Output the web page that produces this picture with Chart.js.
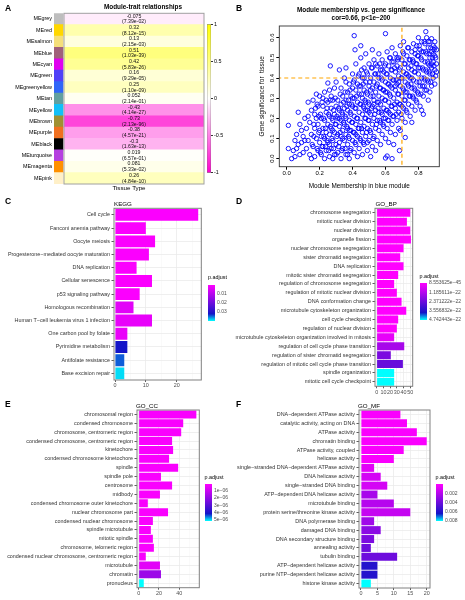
<!DOCTYPE html>
<html>
<head>
<meta charset="utf-8">
<script src="https://cdn.jsdelivr.net/npm/chart.js@4.4.0/dist/chart.umd.min.js"></script>
<style>
  body { margin: 0; background: #fff; }
  #page { position: relative; width: 465px; height: 600px; overflow: hidden; font-family: 'Liberation Sans', Arial, sans-serif; }
  canvas { position: absolute; }
  .txt { position: absolute; white-space: nowrap; line-height: 1; color: #000; }
</style>
</head>
<body>
<div id="page"></div>
<script>
// ---------- A: module-trait heatmap ----------
const modules = ['MEgrey', 'MEred', 'MEsalmon', 'MEblue', 'MEcyan', 'MEgreen', 'MEgreenyellow', 'MEtan',
  'MEyellow', 'MEbrown', 'MEpurple', 'MEblack', 'MEturquoise', 'MEmagenta', 'MEpink'];
const moduleColors = ['#BEBEBE', '#FFD700', '#F5DF7A', '#A0607A', '#E000F0', '#5040F8', '#3066F8', '#62A0A0',
  '#12C0F8', '#A09032', '#F07020', '#000000', '#B540E0', '#FF9000', '#FFF0C8'];
const traitCor = [-0.075, 0.32, 0.13, 0.51, 0.42, 0.16, 0.25, 0.052, -0.43, -0.73, -0.38, -0.3, 0.019, 0.081, 0.26];
const traitP = ['7.39e-02', '8.12e-15', '2.15e-03', '1.03e-39', '5.83e-26', '9.29e-05', '1.10e-09', '2.14e-01',
  '4.14e-27', '2.13e-96', '4.57e-21', '1.63e-13', '6.57e-01', '5.33e-02', '4.84e-10'];
const corTicks = [-1, -0.5, 0, 0.5, 1];
const corTickLabels = ['-1', '-0.5', '0', '0.5', '1'];

// ---------- B: module membership vs gene significance ----------
const mmTicks = [0, 0.2, 0.4, 0.6, 0.8];
const gsTicks = [0, 0.1, 0.2, 0.3, 0.4, 0.5, 0.6];
const mmCut = 0.7;
const gsCut = 0.4;
const geneDots = [
  [0.01,0.165],[0.01,0.05],[0.03,0.0],[0.05,0.01],[0.04,0.04],[0.06,0.05],[0.07,0.07],[0.07,0.23],[0.08,0.17],[0.06,0.12],
  [0.09,0.08],[0.1,0.03],[0.08,0.02],[0.09,0.14],[0.1,0.11],[0.05,0.09],
  [0.11,0.2],[0.12,0.05],[0.12,0.15],[0.13,0.09],[0.13,0.28],[0.14,0.02],[0.14,0.18],[0.15,0.12],[0.15,0.24],[0.16,0.06],
  [0.16,0.29],[0.17,0.15],[0.17,0.01],[0.18,0.1],[0.18,0.2],[0.19,0.04],[0.19,0.26],[0.2,0.14],[0.2,0.31],[0.11,0.09],
  [0.13,0.21],[0.15,0.0],[0.17,0.22],[0.19,0.17],[0.2,0.08],[0.18,0.32],
  [0.21,0.02],[0.21,0.11],[0.21,0.2],[0.22,0.06],[0.22,0.15],[0.22,0.26],[0.23,0.0],[0.23,0.1],[0.23,0.19],[0.23,0.33],
  [0.24,0.04],[0.24,0.13],[0.24,0.23],[0.25,0.08],[0.25,0.17],[0.25,0.28],[0.25,0.375],[0.26,0.01],[0.26,0.12],[0.26,0.21],
  [0.265,0.46],[0.27,0.05],[0.27,0.15],[0.27,0.25],[0.27,0.31],[0.28,0.09],[0.28,0.19],[0.28,0.29],[0.29,0.02],[0.29,0.13],
  [0.29,0.22],[0.29,0.35],[0.3,0.07],[0.3,0.17],[0.3,0.26],[0.22,0.3],[0.24,0.29],[0.26,0.34],[0.28,0.0],[0.3,0.38],
  [0.31,0.03],[0.31,0.12],[0.31,0.2],[0.31,0.29],[0.32,0.08],[0.32,0.16],[0.32,0.24],[0.32,0.44],[0.33,0.0],[0.33,0.11],
  [0.33,0.19],[0.33,0.27],[0.33,0.35],[0.34,0.05],[0.34,0.14],[0.34,0.22],[0.34,0.31],[0.35,0.09],[0.35,0.17],[0.35,0.25],
  [0.35,0.4],[0.36,0.02],[0.36,0.12],[0.36,0.2],[0.36,0.29],[0.36,0.45],[0.37,0.07],[0.37,0.15],[0.37,0.24],[0.37,0.33],
  [0.38,0.0],[0.38,0.1],[0.38,0.19],[0.38,0.27],[0.38,0.37],[0.39,0.05],[0.39,0.14],[0.39,0.22],[0.39,0.31],[0.4,0.09],
  [0.4,0.18],[0.4,0.26],[0.4,0.35],[0.4,0.42],
  [0.41,0.61],[0.41,0.03],[0.41,0.13],[0.41,0.21],[0.41,0.3],[0.41,0.39],[0.415,0.54],[0.42,0.07],[0.42,0.17],[0.42,0.25],
  [0.42,0.34],[0.42,0.47],[0.43,0.01],[0.43,0.11],[0.43,0.2],[0.43,0.28],[0.43,0.37],[0.44,0.05],[0.44,0.15],[0.44,0.23],
  [0.44,0.32],[0.44,0.42],[0.45,0.56],[0.45,0.09],[0.45,0.18],[0.45,0.27],[0.45,0.36],[0.45,0.5],[0.46,0.02],[0.46,0.13],
  [0.46,0.22],[0.46,0.3],[0.46,0.4],[0.47,0.07],[0.47,0.16],[0.47,0.25],[0.47,0.34],[0.47,0.45],[0.48,0.11],[0.48,0.2],
  [0.48,0.28],[0.48,0.38],[0.48,0.52],[0.49,0.04],[0.49,0.15],[0.49,0.24],[0.49,0.32],[0.49,0.42],[0.5,0.09],[0.5,0.19],
  [0.5,0.27],[0.5,0.36],[0.5,0.47],
  [0.51,0.13],[0.51,0.22],[0.51,0.31],[0.51,0.4],[0.51,0.01],[0.52,0.54],[0.52,0.06],[0.52,0.17],[0.52,0.26],[0.52,0.35],
  [0.52,0.45],[0.53,0.11],[0.53,0.2],[0.53,0.29],[0.53,0.38],[0.53,0.49],[0.54,0.15],[0.54,0.24],[0.54,0.33],[0.54,0.42],
  [0.54,0.04],[0.55,0.09],[0.55,0.19],[0.55,0.28],[0.55,0.37],[0.55,0.46],[0.56,0.14],[0.56,0.23],[0.56,0.31],[0.56,0.4],
  [0.56,0.52],[0.57,0.07],[0.57,0.18],[0.57,0.27],[0.57,0.35],[0.57,0.44],[0.58,0.12],[0.58,0.22],[0.58,0.3],[0.58,0.39],
  [0.58,0.49],[0.59,0.16],[0.59,0.25],[0.59,0.34],[0.59,0.43],[0.6,0.003],[0.6,0.62],[0.6,0.1],[0.6,0.2],[0.6,0.29],
  [0.6,0.38],[0.6,0.47],
  [0.61,0.013],[0.61,0.15],[0.61,0.24],[0.61,0.33],[0.61,0.42],[0.61,0.53],[0.62,0.19],[0.62,0.28],[0.62,0.37],[0.62,0.46],
  [0.62,0.08],[0.63,0.13],[0.63,0.22],[0.63,0.31],[0.63,0.4],[0.63,0.5],[0.64,0.0],[0.64,0.17],[0.64,0.26],[0.64,0.35],
  [0.64,0.44],[0.64,0.55],[0.65,0.07],[0.65,0.21],[0.65,0.3],[0.65,0.39],[0.65,0.48],[0.66,0.12],[0.66,0.25],[0.66,0.34],
  [0.66,0.43],[0.66,0.52],[0.67,0.19],[0.67,0.28],[0.67,0.37],[0.67,0.46],[0.68,0.15],[0.68,0.23],[0.68,0.32],[0.68,0.41],
  [0.68,0.5],[0.685,0.04],[0.69,0.14],[0.69,0.27],[0.69,0.36],[0.69,0.45],[0.69,0.56],[0.7,0.2],[0.7,0.31],[0.7,0.4],
  [0.7,0.49],
  [0.71,0.58],[0.71,0.25],[0.71,0.34],[0.71,0.43],[0.71,0.52],[0.72,0.105],[0.72,0.18],[0.72,0.29],[0.72,0.38],[0.72,0.47],
  [0.73,0.23],[0.73,0.33],[0.73,0.42],[0.73,0.51],[0.74,0.27],[0.74,0.36],[0.74,0.45],[0.74,0.55],[0.75,0.21],[0.75,0.31],
  [0.75,0.4],[0.75,0.49],[0.76,0.18],[0.76,0.26],[0.76,0.35],[0.76,0.44],[0.76,0.53],[0.77,0.3],[0.77,0.39],[0.77,0.48],
  [0.77,0.57],[0.78,0.24],[0.78,0.34],[0.78,0.43],[0.78,0.52],[0.79,0.28],[0.79,0.38],[0.79,0.47],[0.79,0.56],[0.8,0.32],
  [0.8,0.42],[0.8,0.51],[0.8,0.6],
  [0.81,0.26],[0.81,0.36],[0.81,0.45],[0.81,0.54],[0.82,0.24],[0.82,0.4],[0.82,0.49],[0.82,0.58],[0.83,0.31],[0.83,0.44],
  [0.83,0.53],[0.835,0.36],[0.84,0.39],[0.84,0.48],[0.84,0.57],[0.845,0.63],[0.85,0.34],[0.85,0.43],[0.85,0.52],[0.85,0.6],
  [0.86,0.29],[0.86,0.38],[0.86,0.47],[0.86,0.55],[0.87,0.42],[0.87,0.5],[0.87,0.58],[0.88,0.595],[0.88,0.36],[0.88,0.45],
  [0.88,0.53],[0.89,0.4],[0.89,0.48],[0.89,0.56],[0.9,0.44],[0.9,0.51],[0.9,0.58],[0.91,0.47],[0.91,0.54],[0.87,0.33],
  [0.83,0.22],[0.9,0.37],
  // dense core of the cloud
  [0.155,0.07],[0.165,0.17],[0.175,0.25],[0.185,0.05],[0.195,0.13],[0.205,0.22],[0.215,0.06],[0.225,0.2],[0.235,0.15],
  [0.245,0.09],[0.165,0.11],[0.185,0.27],[0.205,0.03],[0.225,0.11],[0.245,0.25],[0.215,0.28],[0.235,0.06],[0.195,0.21],
  [0.255,0.04],[0.255,0.22],[0.265,0.16],[0.265,0.29],[0.275,0.1],[0.275,0.2],[0.285,0.05],[0.285,0.24],[0.295,0.17],
  [0.295,0.3],[0.305,0.11],[0.305,0.21],[0.315,0.06],[0.315,0.25],[0.325,0.13],[0.325,0.32],[0.335,0.04],[0.335,0.23],
  [0.345,0.18],[0.345,0.28],[0.26,0.07],[0.28,0.14],[0.3,0.02],[0.32,0.2],[0.34,0.1],
  [0.355,0.05],[0.355,0.21],[0.355,0.33],[0.365,0.16],[0.365,0.26],[0.375,0.11],[0.375,0.29],[0.385,0.04],[0.385,0.23],
  [0.385,0.34],[0.395,0.18],[0.395,0.27],[0.405,0.13],[0.405,0.38],[0.415,0.08],[0.415,0.25],[0.425,0.2],[0.425,0.31],
  [0.435,0.15],[0.435,0.41],[0.445,0.1],[0.445,0.27],[0.36,0.38],[0.38,0.14],[0.4,0.3],[0.42,0.12],[0.44,0.36],[0.37,0.02],
  [0.455,0.15],[0.455,0.32],[0.455,0.44],[0.465,0.08],[0.465,0.26],[0.465,0.37],[0.475,0.2],[0.475,0.29],[0.485,0.13],
  [0.485,0.33],[0.485,0.43],[0.495,0.19],[0.495,0.28],[0.505,0.14],[0.505,0.38],[0.515,0.25],[0.515,0.45],[0.525,0.1],
  [0.525,0.31],[0.535,0.22],[0.535,0.42],[0.545,0.17],[0.545,0.36],[0.47,0.4],[0.49,0.08],[0.51,0.34],[0.53,0.27],
  [0.54,0.47],[0.5,0.23],[0.48,0.24],
  [0.555,0.25],[0.555,0.42],[0.565,0.19],[0.565,0.35],[0.565,0.47],[0.575,0.23],[0.575,0.4],[0.585,0.17],[0.585,0.34],
  [0.595,0.29],[0.595,0.46],[0.605,0.24],[0.605,0.42],[0.615,0.19],[0.615,0.37],[0.625,0.32],[0.625,0.5],[0.635,0.26],
  [0.635,0.44],[0.645,0.21],[0.645,0.39],[0.56,0.28],[0.58,0.44],[0.6,0.33],[0.62,0.23],[0.64,0.48],[0.59,0.2],[0.63,0.36],
  [0.655,0.27],[0.655,0.45],[0.665,0.22],[0.665,0.39],[0.675,0.32],[0.675,0.49],[0.685,0.27],[0.685,0.44],[0.695,0.22],
  [0.695,0.4],[0.705,0.35],[0.705,0.53],[0.715,0.29],[0.715,0.47],[0.725,0.24],[0.725,0.42],[0.735,0.37],[0.735,0.55],
  [0.745,0.31],[0.745,0.49],[0.66,0.36],[0.68,0.38],[0.7,0.26],[0.72,0.33],[0.74,0.41],[0.67,0.5],
  [0.755,0.37],[0.755,0.46],[0.765,0.31],[0.765,0.49],[0.775,0.35],[0.775,0.43],[0.785,0.29],[0.785,0.47],[0.795,0.33],
  [0.795,0.51],[0.805,0.38],[0.805,0.56],[0.815,0.32],[0.815,0.5],[0.825,0.36],[0.825,0.45],[0.835,0.4],[0.835,0.58],
  [0.845,0.44],[0.845,0.53],[0.76,0.4],[0.78,0.54],[0.8,0.45],[0.82,0.53],[0.84,0.34],
  [0.855,0.39],[0.855,0.48],[0.865,0.43],[0.865,0.52],[0.875,0.38],[0.875,0.55],[0.885,0.42],[0.885,0.5],[0.895,0.46],
  [0.895,0.54],[0.905,0.41],[0.905,0.5],[0.86,0.58],[0.88,0.47],[0.9,0.55],[0.91,0.43],[0.87,0.46],[0.89,0.52]
];

// ---------- C: KEGG ----------
const keggTerms = ['Cell cycle', 'Fanconi anemia pathway', 'Oocyte meiosis', 'Progesterone\u2212mediated oocyte maturation',
  'DNA replication', 'Cellular senescence', 'p53 signaling pathway', 'Homologous recombination',
  'Human T\u2212cell leukemia virus 1 infection', 'One carbon pool by folate', 'Pyrimidine metabolism',
  'Antifolate resistance', 'Base excision repair'];
const keggCount = [27, 10, 13, 11, 7, 12, 8, 6, 12, 4, 4, 3, 3];
const keggPadj = [0.001, 0.001, 0.001, 0.001, 0.001, 0.001, 0.001, 0.0045, 0.0037, 0.0033, 0.0325, 0.035, 0.0393];
const keggLim = [0.0005, 0.0405];
const keggLegend = [0.01, 0.02, 0.03];
const keggLegendLabels = ['0.01', '0.02', '0.03'];

// ---------- D: GO_BP ----------
const bpTerms = ['chromosome segregation', 'mitotic nuclear division', 'nuclear division', 'organelle fission',
  'nuclear chromosome segregation', 'sister chromatid segregation', 'DNA replication',
  'mitotic sister chromatid segregation', 'regulation of chromosome segregation', 'regulation of mitotic nuclear division',
  'DNA conformation change', 'microtubule cytoskeleton organization', 'cell cycle checkpoint',
  'regulation of nuclear division', 'microtubule cytoskeleton organization involved in mitosis',
  'regulation of cell cycle phase transition', 'regulation of sister chromatid segregation',
  'regulation of mitotic cell cycle phase transition', 'spindle organization', 'mitotic cell cycle checkpoint'];
const bpCount = [50, 45, 50, 51, 40, 35, 40, 32, 26, 30, 37, 44, 32, 30, 26, 41, 21, 39, 26, 26];
const bpPadj = [1e-30, 1e-30, 1e-30, 1e-30, 1e-30, 1e-30, 1e-30, 1e-30, 1e-30, 1e-30, 1e-30, 1e-30, 1e-30, 1e-30,
  3.8e-23, 1.42e-22, 2.13e-22, 2.45e-22, 4.74e-22, 4.74e-22];
const bpLim = [8.553625e-45, 4.742443e-22];
const bpLegend = [8.553625e-45, 1.185611e-22, 2.371222e-22, 3.556832e-22, 4.742443e-22];
const bpLegendLabels = ['8.553625e\u221245', '1.185611e\u221222', '2.371222e\u221222', '3.556832e\u221222', '4.742443e\u221222'];

// ---------- E: GO_CC ----------
const ccTerms = ['chromosomal region', 'condensed chromosome', 'chromosome, centromeric region',
  'condensed chromosome, centromeric region', 'kinetochore', 'condensed chromosome kinetochore', 'spindle',
  'spindle pole', 'centrosome', 'midbody', 'condensed chromosome outer kinetochore', 'nuclear chromosome part',
  'condensed nuclear chromosome', 'spindle microtubule', 'mitotic spindle', 'chromosome, telomeric region',
  'condensed nuclear chromosome, centromeric region', 'microtubule', 'chromatin', 'pronucleus'];
const ccCount = [57, 44, 42, 33, 34, 30, 39, 22, 33, 21, 9, 29, 14, 12, 14, 15, 7, 21, 22, 5];
const ccPadj = [2e-7, 2e-7, 2e-7, 2e-7, 2e-7, 2e-7, 2e-7, 2e-7, 2e-7, 2e-7, 2e-7, 2e-7, 2e-7, 2e-7, 2e-7, 2e-7, 2e-7,
  6e-7, 1.8e-6, 5.13e-6];
const ccLim = [1e-7, 5.13e-6];
const ccLegend = [1e-6, 2e-6, 3e-6, 4e-6, 5e-6];
const ccLegendLabels = ['1e\u221206', '2e\u221206', '3e\u221206', '4e\u221206', '5e\u221206'];

// ---------- F: GO_MF ----------
const mfTerms = ['DNA\u2212dependent ATPase activity', 'catalytic activity, acting on DNA', 'ATPase activity',
  'chromatin binding', 'ATPase activity, coupled', 'helicase activity', 'single\u2212stranded DNA\u2212dependent ATPase activity',
  'DNA helicase activity', 'single\u2212stranded DNA binding', 'ATP\u2212dependent DNA helicase activity', 'microtubule binding',
  'protein serine/threonine kinase activity', 'DNA polymerase binding', 'damaged DNA binding',
  'DNA secondary structure binding', 'annealing activity', 'tubulin binding', 'ATP\u2212dependent helicase activity',
  'purine NTP\u2212dependent helicase activity', 'histone kinase activity'];
const mfCount = [12, 14, 17, 20, 13, 10, 4, 6, 8, 5, 10, 15, 4, 6, 4, 3, 11, 5, 5, 3];
const mfPadj = [0.00016, 0.00016, 0.00016, 0.00016, 0.00016, 0.00016, 0.0008, 0.0012, 0.0012, 0.0024, 0.002, 0.0016,
  0.0026, 0.0032, 0.0036, 0.004, 0.004, 0.006, 0.006, 0.00806];
const mfLim = [0.00001, 0.00806];
const mfLegend = [0.002, 0.004, 0.006, 0.008];
const mfLegendLabels = ['0.002', '0.004', '0.006', '0.008'];

// ---------- helpers ----------
const FONT = "'Liberation Sans', Arial, sans-serif";
Chart.defaults.font.family = FONT;
const page = document.getElementById('page');

const padjStops = [[0, '#FF00FF'], [0.8, '#1414C8'], [1, '#00FFFF']];
const corrStops = [[0, '#FF00CC'], [0.5, '#FFFFFF'], [1, '#FFFF00']];

function hexToRgb(h) {
  const n = parseInt(h.slice(1), 16);
  return [(n >> 16) & 255, (n >> 8) & 255, n & 255];
}

function rampColor(stops, t) {
  t = Math.max(0, Math.min(1, t));
  for (let i = 1; i < stops.length; i++) {
    if (t <= stops[i][0]) {
      const [t0, c0] = stops[i - 1];
      const [t1, c1] = stops[i];
      const f = (t - t0) / (t1 - t0);
      const a = hexToRgb(c0), b = hexToRgb(c1);
      return 'rgb(' + a.map((v, k) => Math.round(v + (b[k] - v) * f)).join(',') + ')';
    }
  }
  return stops[stops.length - 1][1];
}

function addCanvas(id, left, top, w, h) {
  const c = document.createElement('canvas');
  c.id = id;
  c.width = w;
  c.height = h;
  c.style.left = left + 'px';
  c.style.top = top + 'px';
  page.appendChild(c);
  return c;
}

function label(text, x, y, size, opts = {}) {
  const d = document.createElement('div');
  d.className = 'txt';
  d.textContent = text;
  d.style.fontSize = size + 'px';
  d.style.top = (y - size / 2) + 'px';
  d.style.left = x + 'px';
  if (opts.bold) d.style.fontWeight = 'bold';
  if (opts.center) d.style.transform = 'translateX(-50%)';
  if (opts.color) d.style.color = opts.color;
  page.appendChild(d);
}

const baseOptions = {
  responsive: false,
  animation: false,
  devicePixelRatio: 1,
  events: [],
  plugins: { legend: { display: false }, tooltip: { enabled: false } }
};

function frame(color, width) {
  return {
    id: 'frame',
    afterDatasetsDraw(chart) {
      const a = chart.chartArea;
      const ctx = chart.ctx;
      ctx.save();
      ctx.strokeStyle = color;
      ctx.lineWidth = width;
      ctx.strokeRect(a.left, a.top, a.right - a.left, a.bottom - a.top);
      ctx.restore();
    }
  };
}

// vertical colour bar legend, drawn as one floating bar with a gradient fill
function colorbar(left, top, barW, barH, axisW, cfg) {
  const c = addCanvas('cb' + left + '_' + top, left, top - 4, barW + axisW, barH + 8);
  new Chart(c, {
    type: 'bar',
    data: {
      labels: [''],
      datasets: [{
        data: [[cfg.min, cfg.max]],
        backgroundColor(ctx) {
          const a = ctx.chart.chartArea;
          if (!a) return cfg.stops[0][1];
          const g = ctx.chart.ctx.createLinearGradient(0, a.top, 0, a.bottom);
          cfg.stops.forEach(([t, col]) => g.addColorStop(cfg.reverse ? t : 1 - t, col));
          return g;
        },
        borderColor: '#666',
        borderWidth: cfg.edge ? 0.6 : 0,
        borderSkipped: false,
        barPercentage: 1,
        categoryPercentage: 1
      }]
    },
    options: {
      ...baseOptions,
      layout: { padding: { top: 4, bottom: 4, left: 0, right: 0 } },
      scales: {
        x: { display: false },
        y: {
          position: 'right',
          min: cfg.min,
          max: cfg.max,
          reverse: !!cfg.reverse,
          afterBuildTicks: s => { s.ticks = cfg.ticks.map(v => ({ value: v })); },
          afterFit: s => { s.width = axisW; },
          ticks: { callback: (v, i) => cfg.labels[i], font: { size: cfg.font || 5 }, color: cfg.color || '#4D4D4D', padding: cfg.pad || 2 },
          grid: { drawOnChartArea: false, drawTicks: !!cfg.tickLen, tickLength: cfg.tickLen || 0, tickColor: '#333' },
          border: { display: false }
        }
      }
    }
  });
}

// horizontal enrichment bar chart (ggplot theme_bw look)
function enrichPanel(id, left, top, cfg) {
  const c = addCanvas(id, left, top, 235, 205);
  const colors = cfg.padj.map(p => rampColor(padjStops, (p - cfg.lim[0]) / (cfg.lim[1] - cfg.lim[0])));
  new Chart(c, {
    type: 'bar',
    data: {
      labels: cfg.terms,
      datasets: [{ data: cfg.counts, backgroundColor: colors, barPercentage: 0.9, categoryPercentage: 1, borderWidth: 0 }]
    },
    options: {
      ...baseOptions,
      indexAxis: 'y',
      layout: { padding: { top: cfg.top, right: cfg.right, left: 0, bottom: 0 } },
      scales: {
        x: {
          min: cfg.min,
          max: cfg.max,
          afterBuildTicks: s => { s.ticks = cfg.grid.map(v => ({ value: v })); },
          afterFit: s => { s.height = cfg.xAxisH; },
          ticks: {
            autoSkip: false,
            maxRotation: 0,
            callback: v => (cfg.major.includes(v) ? String(v) : ''),
            font: { size: 5.4 }, color: '#4D4D4D', padding: 0.5
          },
          grid: {
            color: ctx => (cfg.major.includes(ctx.tick.value) ? '#EBEBEB' : '#F4F4F4'),
            lineWidth: ctx => (cfg.major.includes(ctx.tick.value) ? 0.8 : 0.5),
            tickColor: ctx => (cfg.major.includes(ctx.tick.value) ? '#333' : 'rgba(0,0,0,0)'),
            tickLength: 2
          },
          border: { display: false }
        },
        y: {
          afterFit: s => { s.width = cfg.axisW; },
          ticks: { autoSkip: false, font: { size: 5.4 }, color: '#333', padding: 1.5 },
          grid: { offset: false, color: '#EBEBEB', lineWidth: 0.8, tickColor: '#333', tickLength: 2.5 },
          border: { display: false }
        }
      }
    },
    plugins: [frame('#808080', 1)]
  });
}

// ---------- panel A ----------
const heatCanvas = addCanvas('heat', 0, 0, 230, 197);
const cellText = {
  id: 'cellText',
  afterDatasetsDraw(chart) {
    const ctx = chart.ctx;
    const xs = chart.scales.x;
    const x0 = xs.getPixelForValue(0), x1 = xs.getPixelForValue(1);
    const mid = (x0 + x1) / 2;
    ctx.save();
    ctx.font = '5.2px ' + FONT;
    ctx.fillStyle = '#111';
    ctx.textAlign = 'center';
    ctx.textBaseline = 'middle';
    chart.getDatasetMeta(1).data.forEach((bar, i) => {
      ctx.fillText(String(traitCor[i]), mid, bar.y - 2.9);
      ctx.fillText('(' + traitP[i] + ')', mid, bar.y + 2.9);
    });
    const a = chart.chartArea;
    ctx.strokeStyle = '#A0A0A0';
    ctx.lineWidth = 1;
    ctx.strokeRect(x0, a.top, x1 - x0, a.bottom - a.top);
    ctx.restore();
  }
};
new Chart(heatCanvas, {
  type: 'bar',
  data: {
    labels: modules,
    datasets: [
      { data: modules.map(() => [-0.0714, -0.0071]), backgroundColor: moduleColors, grouped: false,
        barPercentage: 1, categoryPercentage: 1, borderWidth: 0 },
      { data: modules.map(() => [0, 1]), backgroundColor: traitCor.map(v => rampColor(corrStops, (v + 1) / 2)),
        grouped: false, barPercentage: 1, categoryPercentage: 1, borderWidth: 0 }
    ]
  },
  options: {
    ...baseOptions,
    indexAxis: 'y',
    layout: { padding: { top: 13.3, right: 26, bottom: 2, left: 0 } },
    scales: {
      x: {
        min: -0.0714, max: 1,
        ticks: { display: false },
        grid: { display: false },
        border: { display: false },
        afterFit: s => { s.height = 11; },
        title: { display: true, text: 'Tissue Type', font: { size: 6.2 }, color: '#000', padding: { top: 0, bottom: 3 } }
      },
      y: {
        afterFit: s => { s.width = 54; },
        ticks: { autoSkip: false, font: { size: 5.4 }, color: '#000', padding: 2 },
        grid: { display: false, drawTicks: false },
        border: { display: false }
      }
    }
  },
  plugins: [cellText]
});
colorbar(207, 24, 4, 149, 20, { min: -1, max: 1, ticks: corTicks, labels: corTickLabels, stops: corrStops,
  reverse: false, edge: true, tickLen: 2, pad: 1, font: 5.4, color: '#000' });

// ---------- panel B ----------
const scatterCanvas = addCanvas('scatter', 230, 0, 235, 200);
new Chart(scatterCanvas, {
  type: 'scatter',
  data: {
    datasets: [
      { type: 'line', data: [{ x: mmCut, y: -0.1 }, { x: mmCut, y: 0.8 }], borderColor: '#FFA500', borderWidth: 1.2,
        borderDash: [4, 3], pointRadius: 0, showLine: true },
      { type: 'line', data: [{ x: -0.1, y: gsCut }, { x: 1, y: gsCut }], borderColor: '#FFA500', borderWidth: 1.2,
        borderDash: [4, 3], pointRadius: 0, showLine: true },
      { data: geneDots.map(([x, y]) => ({ x, y })), pointRadius: 2.2, pointBorderWidth: 0.9,
        pointBorderColor: '#0000FF', pointBackgroundColor: 'rgba(0,0,0,0)' }
    ]
  },
  options: {
    ...baseOptions,
    layout: { padding: { top: 26, right: 25.7, bottom: 0, left: 0 } },
    scales: {
      x: {
        type: 'linear', min: -0.045, max: 0.927,
        afterBuildTicks: s => { s.ticks = mmTicks.map(v => ({ value: v })); },
        afterFit: s => { s.height = 33.3; },
        ticks: { callback: v => v.toFixed(1), font: { size: 6 }, color: '#000', padding: 0, maxRotation: 0 },
        grid: { drawOnChartArea: false, tickLength: 3, tickColor: '#000' },
        border: { display: false },
        title: { display: true, text: 'Module Membership in blue module', font: { size: 6.4 }, color: '#000',
          padding: { top: 0, bottom: 9.5 } }
      },
      y: {
        type: 'linear', min: -0.04, max: 0.658,
        afterBuildTicks: s => { s.ticks = gsTicks.map(v => ({ value: v })); },
        afterFit: s => { s.width = 49.3; },
        ticks: { callback: v => v.toFixed(1), font: { size: 6 }, color: '#000', padding: 0,
          minRotation: 90, maxRotation: 90, crossAlign: 'center' },
        grid: { drawOnChartArea: false, tickLength: 3, tickColor: '#000' },
        border: { display: false },
        title: { display: true, text: 'Gene significance for  tissue', font: { size: 6.4 }, color: '#000',
          padding: { top: 28, bottom: 0 } }
      }
    }
  },
  plugins: [frame('#333', 0.9)]
});

// ---------- panels C-F ----------
enrichPanel('kegg', 0, 195, { terms: keggTerms, counts: keggCount, padj: keggPadj, lim: keggLim,
  min: -0.33, max: 28, grid: [0, 5, 10, 15, 20, 25], major: [0, 10, 20], axisW: 114, top: 13.3, right: 33.7, xAxisH: 20 });
enrichPanel('gobp', 230, 195, { terms: bpTerms, counts: bpCount, padj: bpPadj, lim: bpLim,
  min: -2.5, max: 53.6, grid: [0, 5, 10, 15, 20, 25, 30, 35, 40, 45, 50], major: [0, 10, 20, 30, 40, 50],
  axisW: 145, top: 13.3, right: 52.3, xAxisH: 13.7 });
enrichPanel('gocc', 0, 395, { terms: ccTerms, counts: ccCount, padj: ccPadj, lim: ccLim,
  min: -1.7, max: 59.9, grid: [0, 10, 20, 30, 40, 50], major: [0, 20, 40],
  axisW: 137, top: 15, right: 35.7, xAxisH: 12.3 });
enrichPanel('gomf', 230, 395, { terms: mfTerms, counts: mfCount, padj: mfPadj, lim: mfLim,
  min: -0.6, max: 21, grid: [0, 2.5, 5, 7.5, 10, 12.5, 15, 17.5, 20], major: [0, 5, 10, 15, 20],
  axisW: 129, top: 15, right: 35, xAxisH: 12 });

colorbar(208, 284, 7, 38, 18, { min: keggLim[0], max: keggLim[1], ticks: keggLegend, labels: keggLegendLabels,
  stops: padjStops, reverse: true });
colorbar(419.5, 282, 7, 39, 40, { min: bpLim[0], max: bpLim[1], ticks: bpLegend, labels: bpLegendLabels,
  stops: padjStops, reverse: true });
colorbar(204.5, 483, 7, 39, 24, { min: ccLim[0], max: ccLim[1], ticks: ccLegend, labels: ccLegendLabels,
  stops: padjStops, reverse: true });
colorbar(435.5, 483, 7, 39, 24, { min: mfLim[0], max: mfLim[1], ticks: mfLegend, labels: mfLegendLabels,
  stops: padjStops, reverse: true });

// ---------- text ----------
label('A', 5, 8, 8.5, { bold: true });
label('B', 236, 8, 8.5, { bold: true });
label('C', 5, 201.5, 8.5, { bold: true });
label('D', 236, 201.5, 8.5, { bold: true });
label('E', 5, 404, 8.5, { bold: true });
label('F', 236, 404, 8.5, { bold: true });

label('Module-trait relationships', 143, 7, 6.4, { bold: true, center: true });
label('Module membership vs. gene significance', 361, 10, 6.4, { bold: true, center: true });
label('cor=0.66, p<1e\u2212200', 361, 17.7, 6.4, { bold: true, center: true });

label('KEGG', 114, 204.3, 6.2);
label('GO_BP', 375.5, 204.3, 6.2);
label('GO_CC', 136, 406.3, 6.2);
label('GO_MF', 358, 406.3, 6.2);

label('p.adjust', 208, 278, 5.4);
label('p.adjust', 419.5, 276.5, 5.4);
label('p.adjust', 204.5, 477.3, 5.4);
label('p.adjust', 435.5, 477.3, 5.4);
</script>
</body>
</html>
